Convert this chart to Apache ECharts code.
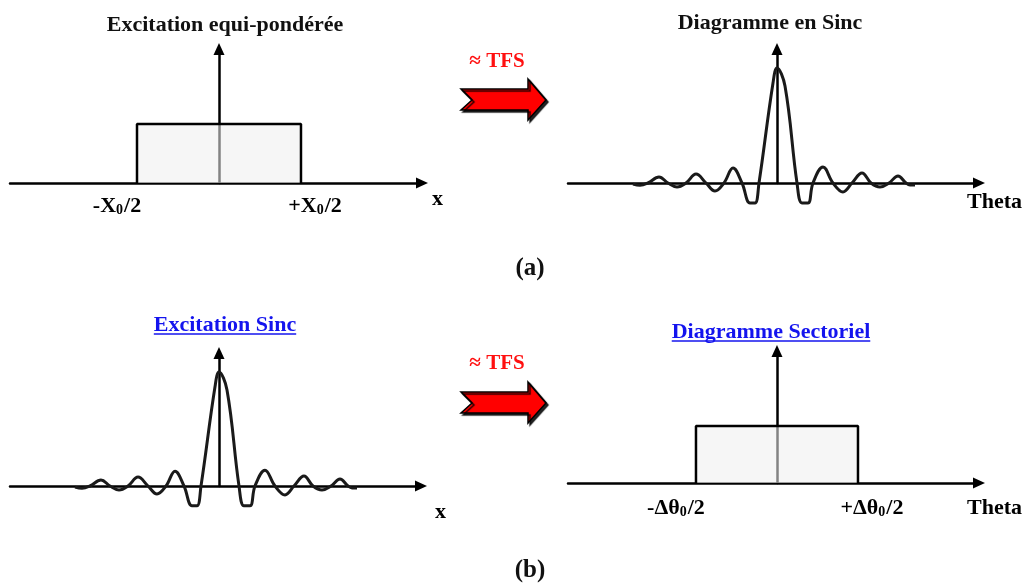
<!DOCTYPE html>
<html>
<head>
<meta charset="utf-8">
<script src="https://cdn.jsdelivr.net/npm/echarts@6/dist/echarts.min.js"></script>
<style>
  html, body { margin: 0; background: #fff; }
  #main { width: 1030px; height: 585px; }
</style>
</head>
<body>
<div id="main"></div>
<script>
// sinc curve: x in main-lobe half widths, y relative to the peak
var sincX = [-7.2, -6.85, -6.45, -5.9, -5.45, -5.0, -4.55, -4.05, -3.55, -3.1, -2.65, -2.2, -1.75, -1.35, -1.1, -0.9, -0.2, 0, 0.4, 1.0, 1.25, 1.55, 1.8, 2.3, 2.8, 3.3, 3.75, 4.25, 4.7, 5.15, 5.6, 6.05, 6.45, 6.65, 6.9];
var sincY = [-0.01, -0.02, 0, 0.052, 0, -0.035, 0, 0.078, 0, -0.07, 0, 0.13, 0, -0.174, -0.174, 0, 0.87, 1, 0.843, 0, -0.174, -0.174, 0, 0.139, 0, -0.078, 0, 0.087, 0, -0.035, 0, 0.061, 0, -0.017, -0.017];
// uniform aperture / sector pattern: half width 1, height 1
var rectX = [-1, -1, 1, 1];
var rectY = [0, 1, 1, 0];
// tick labels: [main, subscript, tail]
var ticksX = [['-X', '0', '/2'], ['+X', '0', '/2']];
var ticksTheta = [['-\u0394\u03b8', '0', '/2'], ['+\u0394\u03b8', '0', '/2']];
var titles = ['Excitation equi-pond\u00e9r\u00e9e', 'Diagramme en Sinc', 'Excitation Sinc', 'Diagramme Sectoriel'];
var axisNames = ['x', 'Theta', 'x', 'Theta'];

var FONT = '"Liberation Serif", "DejaVu Serif", serif';
var chart = echarts.init(document.getElementById('main'));

function pts(xs, ys) {
  return xs.map(function (x, i) { return [x, ys[i]]; });
}

var rich = {
  m: { fontFamily: FONT, fontWeight: 'bold', fontSize: 22, color: '#000' },
  s: { fontFamily: FONT, fontWeight: 'bold', fontSize: 14, color: '#000', verticalAlign: 'bottom', padding: [0, 1, 0, 0] },
  g: { width: 40 },
  h: { width: 28 }
};
function tickFmt(ticks) {
  return function (v) {
    var t = ticks[v < 0 ? 0 : 1];
    var body = '{m|' + t[0] + '}{s|' + t[1] + '}{m|' + t[2] + '}';
    return v < 0 ? body + '{g| }' : '{h| }' + body;
  };
}

function xAxis(gi, min, max, name, gap, pad, ticks, margin) {
  return {
    type: 'value', gridIndex: gi, min: min, max: max,
    splitLine: { show: false }, axisTick: { show: false },
    axisLine: { onZero: true, symbol: ['none', 'triangle'], symbolSize: [11, 12], lineStyle: { color: '#000', width: 2.5 } },
    axisLabel: ticks ? { customValues: [-1, 1], formatter: tickFmt(ticks), rich: rich, margin: margin } : { show: false },
    name: name, nameLocation: 'end', nameGap: gap,
    nameTextStyle: { fontFamily: FONT, fontWeight: 'bold', fontSize: 22, color: '#000', align: 'left', verticalAlign: 'top', padding: [pad, 0, 0, 0] }
  };
}
function yAxis(gi, max) {
  return {
    type: 'value', gridIndex: gi, min: 0, max: max,
    splitLine: { show: false }, axisTick: { show: false }, axisLabel: { show: false },
    axisLine: { onZero: true, symbol: ['none', 'triangle'], symbolSize: [11, 12], lineStyle: { color: '#000', width: 2.5 } }
  };
}
function rectSeries(gi) {
  return {
    type: 'line', xAxisIndex: gi, yAxisIndex: gi, data: pts(rectX, rectY), symbol: 'none', z: 3,
    lineStyle: { color: '#000', width: 2.5 },
    areaStyle: { color: '#efefef', opacity: 0.55 }
  };
}
function sincSeries(gi) {
  return {
    type: 'line', xAxisIndex: gi, yAxisIndex: gi, data: pts(sincX, sincY), symbol: 'none', smooth: 0.4, clip: false, z: 3,
    lineStyle: { color: '#1a1a1a', width: 3 },
    markLine: {
      silent: true, symbol: 'none', label: { show: false },
      lineStyle: { color: '#aaa', width: 1.5, type: 'solid' },
      data: [[{ coord: [sincX[0], 0.06] }, { coord: [sincX[0], -0.09] }]]
    }
  };
}

// text width for the underlined (link style) titles
var ctx = document.createElement('canvas').getContext('2d');
function textW(t, size) {
  ctx.font = 'bold ' + size + 'px ' + FONT;
  return ctx.measureText(t).width;
}

function label(text, x, y, size, color) {
  return { type: 'text', x: x, y: y, z: 10,
    style: { text: text, fontFamily: FONT, fontWeight: 'bold', fontSize: size, fill: color, align: 'center', verticalAlign: 'middle' } };
}
function underline(text, x, y, size, color) {
  var w = textW(text, size);
  return { type: 'line', z: 10, shape: { x1: x - w / 2, y1: y, x2: x + w / 2, y2: y }, style: { stroke: color, lineWidth: 1.5 } };
}
function bigArrow(dy) {
  var p = [[461, 89], [528, 89], [528, 79], [546, 100], [528, 120], [528, 110], [461, 110], [472, 100]];
  return { type: 'polygon', z: 10,
    shape: { points: p.map(function (q) { return [q[0], q[1] + dy]; }) },
    style: { fill: '#ff0000', stroke: '#000', lineWidth: 1.5, shadowColor: 'rgba(0,0,0,0.85)', shadowOffsetX: 2, shadowOffsetY: 2, shadowBlur: 1 } };
}

var BLUE = '#1414ee';
var option = {
  animation: false,
  backgroundColor: '#fff',
  grid: [
    { left: 10, top: 49, width: 412, height: 134 },
    { left: 568, top: 49, width: 411, height: 134 },
    { left: 10, top: 353, width: 411, height: 133 },
    { left: 568, top: 351, width: 411, height: 132 }
  ],
  xAxis: [
    xAxis(0, -2.549, 2.476, axisNames[0], 10, 5, ticksX, 12),
    xAxis(1, -10.45, 10.1, axisNames[1], -12, 8, null, 0),
    xAxis(2, -10.45, 10.1, axisNames[2], 14, 15, null, 0),
    xAxis(3, -2.58, 2.494, axisNames[3], -12, 14, ticksTheta, 14)
  ],
  yAxis: [yAxis(0, 2.271), yAxis(1, 1.165), yAxis(2, 1.167), yAxis(3, 2.316)],
  series: [rectSeries(0), sincSeries(1), sincSeries(2), rectSeries(3)],
  graphic: [
    label(titles[0], 225, 25, 22, '#111'),
    label(titles[1], 770, 23, 22, '#111'),
    label(titles[2], 225, 325, 22, BLUE),
    underline(titles[2], 225, 334, 22, BLUE),
    label(titles[3], 771, 332, 22, BLUE),
    underline(titles[3], 771, 341, 22, BLUE),
    label('(a)', 530, 269, 25, '#111'),
    label('(b)', 530, 571, 25, '#111'),
    label('\u2248 TFS', 497, 62, 21, '#ff1010'),
    label('\u2248 TFS', 497, 364, 21, '#ff1010'),
    bigArrow(0),
    bigArrow(303)
  ]
};
chart.setOption(option);
</script>
</body>
</html>
